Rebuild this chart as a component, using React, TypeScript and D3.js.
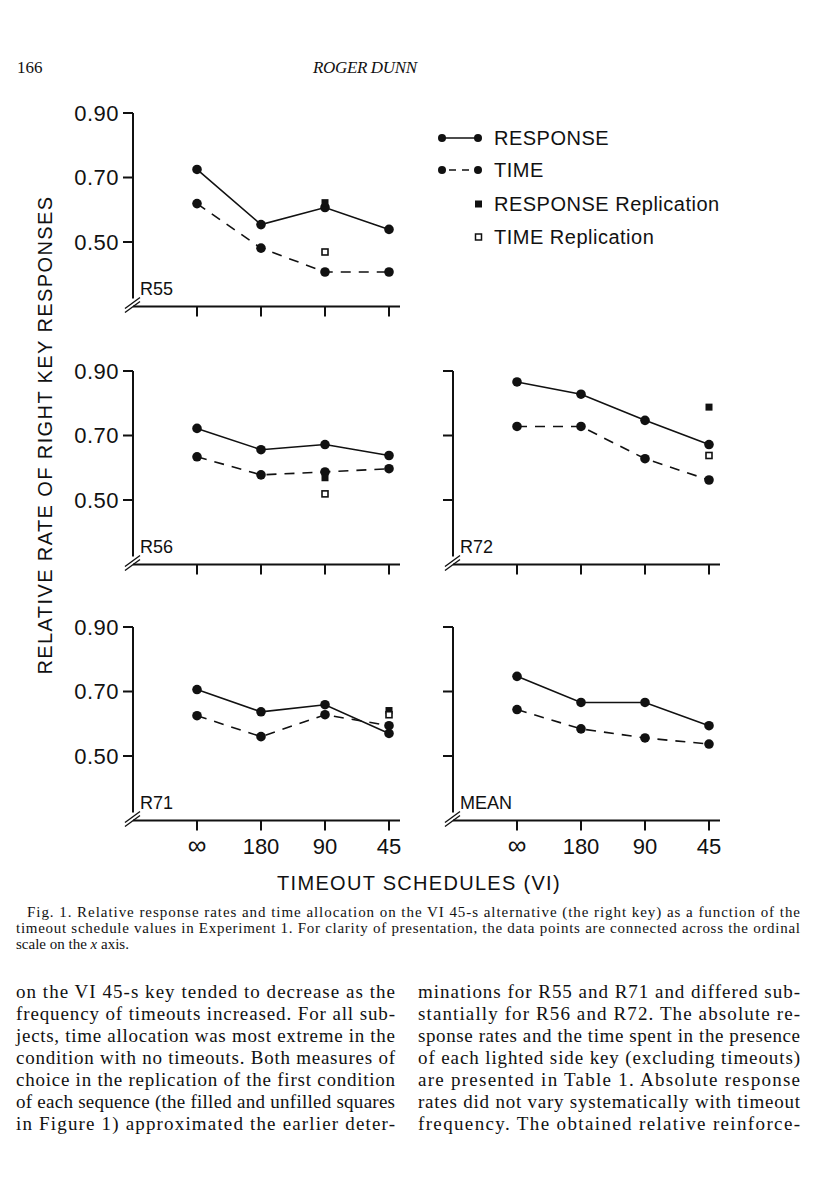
import React from "react";
import * as d3 from "d3";

const schedules = ["∞", "180", "90", "45"];
const yTicks = [0.5, 0.7, 0.9];

const r55Response = [0.725, 0.554, 0.607, 0.539];
const r55Time = [0.619, 0.481, 0.407, 0.407];
const r56Response = [0.722, 0.656, 0.672, 0.638];
const r56Time = [0.634, 0.578, 0.587, 0.597];
const r72Response = [0.866, 0.828, 0.747, 0.672];
const r72Time = [0.728, 0.728, 0.628, 0.562];
const r71Response = [0.706, 0.637, 0.659, 0.57];
const r71Time = [0.625, 0.56, 0.628, 0.594];
const meanResponse = [0.747, 0.666, 0.666, 0.594];
const meanTime = [0.644, 0.584, 0.556, 0.537];

// replication points: [schedule, value]
const r55Rep = { response: ["90", 0.622], time: ["90", 0.469] };
const r56Rep = { response: ["90", 0.569], time: ["90", 0.519] };
const r72Rep = { response: ["45", 0.788], time: ["45", 0.638] };
const r71Rep = { response: ["45", 0.641], time: ["45", 0.628] };

const legendLabels = ["RESPONSE", "TIME", "RESPONSE Replication", "TIME Replication"];

const captionLines = [
  "Fig. 1.   Relative response rates and time allocation on the VI 45-s alternative (the right key) as a function of the",
  "timeout schedule values in Experiment 1. For clarity of presentation, the data points are connected across the ordinal",
];

const leftCol = [
  "on the VI 45-s key tended to decrease as the",
  "frequency of timeouts increased. For all sub-",
  "jects, time allocation was most extreme in the",
  "condition with no timeouts. Both measures of",
  "choice in the replication of the first condition",
  "of each sequence (the filled and unfilled squares",
  "in Figure 1) approximated the earlier deter-",
];
const rightCol = [
  "minations for R55 and R71 and differed sub-",
  "stantially for R56 and R72. The absolute re-",
  "sponse rates and the time spent in the presence",
  "of each lighted side key (excluding timeouts)",
  "are presented in Table 1. Absolute response",
  "rates did not vary systematically with timeout",
  "frequency. The obtained relative reinforce-",
];

const SANS = "'Liberation Sans', Arial, Helvetica, sans-serif";
const SERIF = "'Liberation Serif', 'Times New Roman', serif";

type Panel = {
  name: string;
  x0: number;
  yTop: number;
  response: number[];
  time: number[];
  rep: any;
  yLabels: boolean;
  xLabels: boolean;
};

const panels: Panel[] = [
  { name: "R55", x0: 133, yTop: 113, response: r55Response, time: r55Time, rep: r55Rep, yLabels: true, xLabels: false },
  { name: "R56", x0: 133, yTop: 371, response: r56Response, time: r56Time, rep: r56Rep, yLabels: true, xLabels: false },
  { name: "R72", x0: 453, yTop: 371, response: r72Response, time: r72Time, rep: r72Rep, yLabels: false, xLabels: false },
  { name: "R71", x0: 133, yTop: 627, response: r71Response, time: r71Time, rep: r71Rep, yLabels: true, xLabels: true },
  { name: "MEAN", x0: 453, yTop: 627, response: meanResponse, time: meanTime, rep: null, yLabels: false, xLabels: true },
];

const PH = 193.5;

function PanelView({ p }: { p: Panel }) {
  const x = d3.scalePoint<string>().domain(schedules).range([p.x0 + 64, p.x0 + 256]);
  const y = d3.scaleLinear().domain([0.3, 0.9]).range([p.yTop + PH, p.yTop]);
  const base = p.yTop + PH;
  const line = d3
    .line<number>()
    .x((_, i) => x(schedules[i]) as number)
    .y((d) => y(d));
  return (
    <g>
      <line x1={p.x0} x2={p.x0} y1={p.yTop} y2={base - 8} stroke="#111" strokeWidth={2} />
      <line x1={p.x0 - 8} y1={base + 2} x2={p.x0 + 7} y2={base - 9} stroke="#111" strokeWidth={1.4} />
      <line x1={p.x0 - 8} y1={base + 6} x2={p.x0 + 7} y2={base - 5} stroke="#111" strokeWidth={1.4} />
      <line x1={p.x0} x2={p.x0 + 267} y1={base} y2={base} stroke="#111" strokeWidth={2} />
      {yTicks.map((t) => (
        <g key={t}>
          <line x1={p.x0 - 10} x2={p.x0} y1={y(t)} y2={y(t)} stroke="#111" strokeWidth={2} />
          {p.yLabels && (
            <text x={p.x0 - 14} y={y(t)} dy="0.36em" textAnchor="end" fontFamily={SANS} fontSize={22} letterSpacing={0.5} fill="#111">
              {t.toFixed(2)}
            </text>
          )}
        </g>
      ))}
      {schedules.map((s) => (
        <g key={s}>
          <line x1={x(s)} x2={x(s)} y1={base} y2={base + 10} stroke="#111" strokeWidth={2} />
          {p.xLabels && (
            <text x={x(s)} y={base + 33} textAnchor="middle" fontFamily={SANS} fontSize={s === "∞" ? 26 : 22} fill="#111">
              {s}
            </text>
          )}
        </g>
      ))}
      <text x={p.x0 + 7} y={base - 12} fontFamily={SANS} fontSize={18} fill="#111">
        {p.name}
      </text>
      <path d={line(p.response) as string} fill="none" stroke="#111" strokeWidth={1.6} />
      <path d={line(p.time) as string} fill="none" stroke="#111" strokeWidth={1.6} strokeDasharray="10 8" />
      {p.response.map((v, i) => (
        <circle key={"r" + i} cx={x(schedules[i])} cy={y(v)} r={4.8} fill="#111" />
      ))}
      {p.time.map((v, i) => (
        <circle key={"t" + i} cx={x(schedules[i])} cy={y(v)} r={4.8} fill="#111" />
      ))}
      {p.rep && (
        <g>
          <rect
            x={(x(p.rep.response[0]) as number) - 3.5}
            y={y(p.rep.response[1]) - 3.5}
            width={7}
            height={7}
            fill="#111"
          />
          <rect
            x={(x(p.rep.time[0]) as number) - 3}
            y={y(p.rep.time[1]) - 3}
            width={6}
            height={6}
            fill="#fff"
            stroke="#111"
            strokeWidth={1.6}
          />
        </g>
      )}
    </g>
  );
}

function Legend() {
  const lx = 442;
  const rows = [138, 170, 204, 237];
  return (
    <g fontFamily={SANS} fontSize={20} fill="#111">
      <line x1={lx} x2={lx + 36} y1={rows[0]} y2={rows[0]} stroke="#111" strokeWidth={1.6} />
      <circle cx={lx} cy={rows[0]} r={4} fill="#111" />
      <circle cx={lx + 36} cy={rows[0]} r={4} fill="#111" />
      <line x1={lx} x2={lx + 36} y1={rows[1]} y2={rows[1]} stroke="#111" strokeWidth={1.6} strokeDasharray="0 7 7 6 7 20" />
      <circle cx={lx} cy={rows[1]} r={4} fill="#111" />
      <circle cx={lx + 36} cy={rows[1]} r={4} fill="#111" />
      <rect x={475} y={rows[2] - 3.5} width={7} height={7} fill="#111" />
      <rect x={475.5} y={rows[3] - 3} width={6} height={6} fill="#fff" stroke="#111" strokeWidth={1.5} />
      {legendLabels.map((l, i) => (
        <text key={l} x={494} y={rows[i]} dy="0.36em" letterSpacing={0.5}>
          {l}
        </text>
      ))}
    </g>
  );
}

export default function App() {
  return (
    <svg
      width={816}
      height={1193}
      viewBox="0 0 816 1193"
      style={{ position: "absolute", left: 0, top: 0, background: "#fff" }}
    >
      <rect width={816} height={1193} fill="#fff" />
      <text x={17} y={73} fontFamily={SERIF} fontSize={17} fill="#111">166</text>
      <text x={313} y={73} fontFamily={SERIF} fontSize={17} fontStyle="italic" fill="#111" textLength={104} lengthAdjust="spacing">ROGER DUNN</text>

      {panels.map((p) => (
        <PanelView key={p.name} p={p} />
      ))}
      <Legend />

      <text
        transform="translate(52,435) rotate(-90)"
        textAnchor="middle"
        fontFamily={SANS}
        fontSize={20}
        letterSpacing={1.4}
        fill="#111"
      >
        RELATIVE RATE OF RIGHT KEY RESPONSES
      </text>
      <text x={419} y={890} textAnchor="middle" fontFamily={SANS} fontSize={20} letterSpacing={1.3} fill="#111">
        TIMEOUT SCHEDULES (VI)
      </text>

      <g fontFamily={SERIF} fontSize={15} fill="#111">
        <text x={27} y={917} textLength={773} lengthAdjust="spacing">{captionLines[0]}</text>
        <text x={16} y={933} textLength={784} lengthAdjust="spacing">{captionLines[1]}</text>
        <text x={16} y={949}>
          scale on the <tspan fontStyle="italic">x</tspan> axis.
        </text>
      </g>

      <g fontFamily={SERIF} fontSize={19} fill="#111">
        {leftCol.map((l, i) => (
          <text key={"l" + i} x={16} y={998 + i * 22} textLength={379} lengthAdjust="spacing">{l}</text>
        ))}
        {rightCol.map((l, i) => (
          <text key={"r" + i} x={418} y={998 + i * 22} textLength={382} lengthAdjust="spacing">{l}</text>
        ))}
      </g>
    </svg>
  );
}
